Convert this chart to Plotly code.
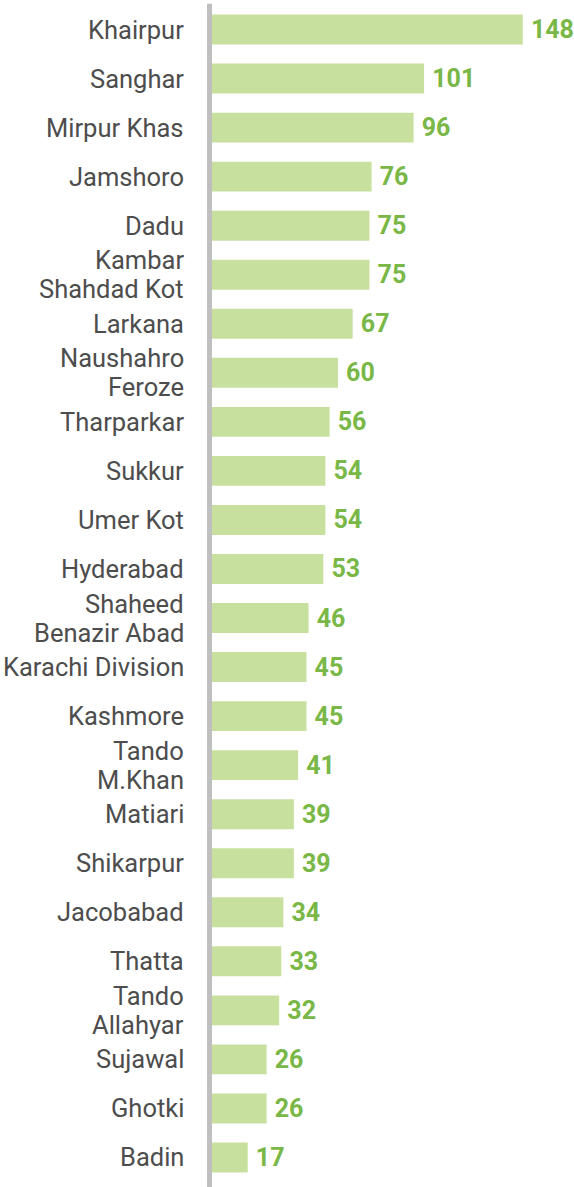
import plotly.graph_objects as go

districts = ["Khairpur", "Sanghar", "Mirpur Khas", "Jamshoro", "Dadu",
             "Kambar<br>Shahdad Kot", "Larkana", "Naushahro<br>Feroze", "Tharparkar",
             "Sukkur", "Umer Kot", "Hyderabad", "Shaheed<br>Benazir Abad",
             "Karachi Division", "Kashmore", "Tando<br>M.Khan", "Matiari",
             "Shikarpur", "Jacobabad", "Thatta", "Tando<br>Allahyar", "Sujawal",
             "Ghotki", "Badin"]
values = [148, 101, 96, 76, 75, 75, 67, 60, 56, 54, 54, 53, 46, 45, 45, 41,
          39, 39, 34, 33, 32, 26, 26, 17]

fig = go.Figure(go.Bar(
    y=districts, x=values, orientation="h",
    marker=dict(color="#c8e09d", line=dict(width=0)),
    width=0.61,
    texttemplate="\u2009%{x}", textposition="outside",
    textfont=dict(family="Roboto", size=25, color="#79b746", weight="bold"),
    cliponaxis=False,
    hoverinfo="skip",
))

# category labels as annotations (tighter line spacing for two-line names)
annotations = []
for name in districts:
    lines = name.split("<br>")
    n = len(lines)
    for i, line in enumerate(lines):
        annotations.append(dict(
            x=0, xref="paper", y=name, yref="y", text=line, showarrow=False,
            xanchor="right", yanchor="middle", xshift=-26,
            yshift=(n - 1) * 14.5 - i * 29,
            font=dict(family="Roboto", size=25.5, color="#4d4d4d"),
        ))

fig.update_layout(
    width=574, height=1187,
    margin=dict(l=212, r=0, t=5, b=5),
    paper_bgcolor="white", plot_bgcolor="white",
    showlegend=False,
    font=dict(family="Roboto", color="#4d4d4d"),
    xaxis=dict(range=[0, 172.4], visible=False, fixedrange=True),
    yaxis=dict(autorange="reversed", showgrid=False, zeroline=False,
               showline=False, ticks="", showticklabels=False, fixedrange=True),
    annotations=annotations,
    shapes=[dict(type="rect", xref="paper", yref="paper",
                 xsizemode="pixel", xanchor=0, x0=-5, x1=0,
                 y0=-0.005, y1=1.001, fillcolor="#bfbfbf",
                 line=dict(width=0), layer="above")],
)

fig.write_html("out.html", config={"displayModeBar": False},
               post_script="document.body.style.margin='0';document.body.style.overflow='hidden';")
